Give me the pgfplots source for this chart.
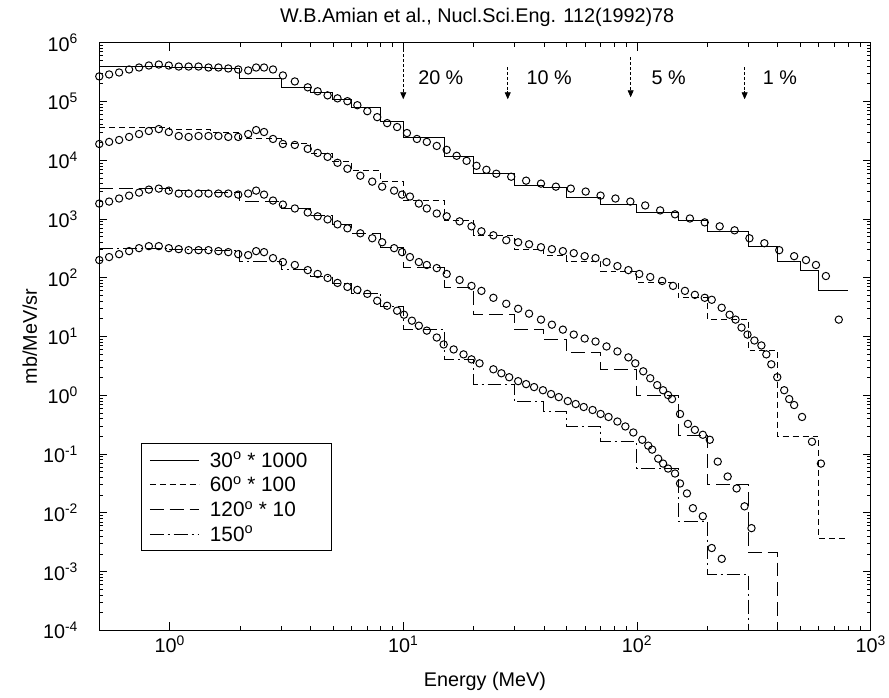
\documentclass[border=0pt]{standalone}
\usepackage{fontspec}
\setmainfont{Liberation Sans}
\usepackage{pgfplots}
\pgfplotsset{compat=1.18}
\usetikzlibrary{arrows.meta}

\begin{document}
\begin{tikzpicture}[
  meas/.style={only marks, mark=o, mark size=3.7bp, black, mark options={line width=1bp, solid}},
  calc/.style={const plot, black, line width=1bp},
]
\begin{axis}[
  scale only axis, width=777bp, height=592bp,
  xmode=log, ymode=log,
  xmin=0.5, xmax=1000, ymin=1e-4, ymax=1e6,
  xtick={1,10,100,1000},
  xticklabels={10\textsuperscript{0},10\textsuperscript{1},10\textsuperscript{2},10\textsuperscript{3}},
  ytick={1e-4,1e-3,1e-2,1e-1,1,10,100,1e3,1e4,1e5,1e6},
  yticklabels={10\textsuperscript{-4},10\textsuperscript{-3},10\textsuperscript{-2},10\textsuperscript{-1},
    10\textsuperscript{0},10\textsuperscript{1},10\textsuperscript{2},10\textsuperscript{3},
    10\textsuperscript{4},10\textsuperscript{5},10\textsuperscript{6}},
  axis line style={line width=1.4bp},
  major tick length=8bp, minor tick length=4bp,
  tick style={line width=0.8bp, black},
  ticklabel style={font=\fontsize{20}{22}\selectfont},
  yticklabel style={xshift=-18bp},
  xticklabel style={yshift=-2bp},
  xlabel={Energy (MeV)}, ylabel={mb/MeV/sr},
  label style={font=\fontsize{20}{22}\selectfont},
  xlabel style={at={(axis description cs:0.5,-0.087)}, anchor=center},
  ylabel style={at={(axis description cs:-0.090,0.5)}, anchor=center},
  title={W.B.Amian et al., Nucl.Sci.Eng. 112(1992)78},
  title style={font=\fontsize{20}{22}\selectfont, at={(axis description cs:0.49,1)}, anchor=center, yshift=20bp},
  legend style={at={(rel axis cs:0.054,0.318)}, anchor=north west, draw=black, line width=1bp,
    font=\fontsize{21}{23}\selectfont, inner xsep=8bp, inner ysep=6bp, row sep=4bp},
  legend cell align=left,
  legend image code/.code={\draw[#1] (0bp,0bp) -- (50bp,0bp);},
  /tikz/every odd column/.append style={column sep=8bp},
]
\coordinate (O) at (rel axis cs:0,0);
\coordinate (T) at (rel axis cs:1,1);

% calculations (histograms)
\addplot[calc] coordinates {
(0.5,3.9e5)(1,3.8e5)(1.5,3.6e5)(2,2.5e5)(3,1.74e5)(4,1.43e5)(5,1.09e5)(6,7.9e4)(8,4.6e4)
(10,2.4e4)(15,1.18e4)(20,5.9e3)(30,3.7e3)(40,3.5e3)(50,2.3e3)(70,1.77e3)(100,1.29e3)
(150,946)(200,617)(300,344)(400,192)(500,135)(600,60)(800,60)};
\addlegendentry{30\textsuperscript{o} * 1000\kern14bp}

\addplot[calc, dash pattern=on 6bp off 4bp] coordinates {
(0.5,3.66e4)(1,3.3e4)(1.5,3.0e4)(2,2.3e4)(3,1.9e4)(4,1.3e4)(5,9.5e3)(6,6.6e3)(8,4.3e3)
(10,2.06e3)(15,946)(20,530)(30,306)(40,243)(50,192)(70,130)(100,82)(150,46)(200,19.4)
(300,5.8)(400,0.2)(600,0.0036)(800,0.0036)};
\addlegendentry{60\textsuperscript{o} * 100}

\addplot[calc, dash pattern=on 14bp off 6bp] coordinates {
(0.5,3.29e3)(1,3.0e3)(1.5,2.8e3)(2,2.0e3)(3,1.5e3)(4,1.15e3)(5,800)(6,560)(8,330)
(10,148)(15,67)(20,23.5)(30,13.1)(40,8.9)(50,5.4)(70,2.8)(100,1.0)(150,0.21)(200,0.030)
(300,0.0021)(400,1e-6)(500,1e-6)};
\addlegendentry{120\textsuperscript{o} * 10}

\addplot[calc, dash pattern=on 14bp off 4bp on 2bp off 4bp] coordinates {
(0.5,318)(1,300)(1.5,290)(2,192)(3,140)(4,105)(5,80)(6,55)(8,32)
(10,13)(15,4.0)(20,1.55)(30,0.77)(40,0.52)(50,0.29)(70,0.162)(100,0.057)(150,0.0072)
(200,9.1e-4)(300,1e-6)(400,1e-6)};
\addlegendentry{150\textsuperscript{o}}

% measurements
\addplot[meas, forget plot] coordinates {
(0.500,2.67e5)(0.551,2.88e5)(0.608,3.11e5)(0.671,3.50e5)(0.740,3.78e5)(0.815,4.09e5)
(0.899,4.25e5)(0.992,4.09e5)(1.094,3.93e5)(1.206,3.93e5)(1.330,3.93e5)(1.467,3.78e5)
(1.618,3.78e5)(1.783,3.64e5)(1.967,3.50e5)(2.169,3.37e5)(2.346,3.78e5)(2.536,3.78e5)
(2.770,3.50e5)(3.054,2.77e5)(3.435,2.19e5)(3.901,1.74e5)(4.301,1.49e5)(4.744,1.27e5)
(5.230,1.13e5)(5.768,1.01e5)(6.361,8.63e4)(7.015,6.83e4)(7.734,5.41e4)(8.530,4.28e4)
(9.410,3.67e4)(10.37,2.90e4)(11.44,2.30e4)(12.61,2.05e4)(13.91,1.75e4)(15.34,1.50e4)
(16.92,1.19e4)(18.66,9.77e3)(20.58,8.04e3)(22.69,6.88e3)(25.01,5.89e3)(28.97,5.24e3)
(33.56,4.49e3)(38.85,4.00e3)(44.99,3.55e3)(52.10,3.29e3)(60.35,2.93e3)(69.88,2.50e3)
(80.91,2.23e3)(93.70,1.98e3)(108.5,1.70e3)(125.7,1.40e3)(145.5,1.20e3)(168.5,1.02e3)
(195.1,876)(226.0,750)(261.7,642)(303.0,470)(351.0,387)(406.4,295)(470.7,233)
(529.1,200)(583.7,165)(643.7,107)(730.9,19.4)};
\addplot[meas, forget plot] coordinates {
(0.500,1.89e4)(0.551,2.05e4)(0.608,2.21e4)(0.671,2.49e4)(0.740,2.79e4)(0.815,3.14e4)
(0.899,3.39e4)(0.992,3.02e4)(1.094,2.58e4)(1.206,2.49e4)(1.330,2.58e4)(1.467,2.58e4)
(1.618,2.58e4)(1.783,2.49e4)(1.967,2.49e4)(2.169,2.79e4)(2.346,3.26e4)(2.536,3.02e4)
(2.770,2.30e4)(3.054,1.89e4)(3.435,1.82e4)(3.901,1.56e4)(4.301,1.33e4)(4.744,1.14e4)
(5.230,9.04e3)(5.768,7.16e3)(6.550,5.45e3)(7.366,4.32e3)(8.121,3.55e3)(9.135,3.04e3)
(9.88,2.60e3)(10.68,2.41e3)(11.66,1.83e3)(12.61,1.51e3)(13.91,1.24e3)(15.34,1.11e3)
(17.42,911)(19.59,750)(21.6,617)(24.3,528)(27.59,435)(31.02,402)(34.54,372)(38.85,331)
(43.26,307)(48.2,284)(53.65,262)(59.75,233)(66.5,216)(74.10,185)(82.51,158)(91.9,135)
(102.3,116)(114.0,103)(128.2,88.3)(142.7,72.7)(160.5,59.8)(177.0,51.2)(195.1,45.6)
(209.0,42.2)(230.5,30.9)(249.2,23.5)(264.2,19.4)(280.3,14.2)(297.2,10.8)(318.2,8.56)
(340.9,7.05)(357.9,4.97)(375.8,3.37)(398.6,2.03)(426.9,1.22)(448.3,0.863)(470.7,0.683)
(508.8,0.428)(561.3,0.162)(612.9,0.0689)};
\addplot[meas, forget plot] coordinates {
(0.500,1.83e3)(0.551,1.98e3)(0.608,2.23e3)(0.671,2.50e3)(0.740,2.81e3)(0.815,3.16e3)
(0.899,3.29e3)(0.992,3.04e3)(1.094,2.71e3)(1.206,2.71e3)(1.330,2.71e3)(1.467,2.71e3)
(1.618,2.71e3)(1.783,2.71e3)(1.967,2.60e3)(2.169,2.71e3)(2.346,3.04e3)(2.536,2.60e3)
(2.770,2.06e3)(3.054,1.76e3)(3.435,1.51e3)(3.901,1.29e3)(4.301,1.11e3)(4.744,984)
(5.230,811)(5.768,694)(6.550,571)(7.366,470)(8.121,402)(9.135,319)(9.88,273)(10.68,225)
(11.66,185)(12.61,165)(13.91,146)(15.34,116)(17.42,91.8)(19.59,72.7)(21.6,59.8)
(24.3,45.6)(27.59,36.1)(31.02,29.7)(34.54,24.5)(38.85,19.4)(43.26,15.9)(48.2,13.1)
(53.65,10.8)(59.75,9.25)(66.5,8.23)(74.10,6.78)(82.51,5.58)(91.9,4.42)(98.4,3.50)
(106.4,2.56)(114.0,1.95)(122.1,1.49)(129.4,1.22)(135.9,1.01)(141.3,0.863)(152.9,0.481)
(165.3,0.326)(177.0,0.258)(191.4,0.213)(205.0,0.175)(221.7,0.0744)(244.5,0.0415)
(267.0,0.0260)(288.7,0.0129)(309.2,0.00549)};
\addplot[meas, forget plot] coordinates {
(0.500,200)(0.551,225)(0.608,252)(0.671,284)(0.740,319)(0.815,345)(0.899,345)(0.992,319)
(1.094,307)(1.206,295)(1.330,295)(1.467,295)(1.618,284)(1.783,273)(1.967,252)(2.169,243)
(2.346,284)(2.536,273)(2.770,216)(3.054,185)(3.435,165)(3.901,135)(4.301,116)(4.744,99.2)
(5.230,81.7)(5.768,69.9)(6.361,62.2)(7.015,53.2)(7.734,40.6)(8.530,33.4)(9.410,27.5)
(10.07,23.5)(10.89,18.6)(11.66,15.3)(12.61,12.6)(13.91,9.62)(14.89,7.33)(16.43,6.03)
(18.11,4.97)(19.59,4.09)(21.2,3.50)(24.3,2.77)(26.3,2.37)(28.4,2.03)(31.02,1.74)
(33.56,1.55)(36.3,1.38)(39.6,1.22)(42.9,1.05)(46.3,0.932)(50.6,0.798)(54.7,0.710)
(59.2,0.632)(64.6,0.562)(69.9,0.481)(75.6,0.428)(82.5,0.358)(89.2,0.295)(96.5,0.233)
(105.4,0.175)(111.8,0.139)(116.2,0.119)(123.3,0.0836)(129.4,0.0689)(135.9,0.0567)
(145.5,0.0467)(152.9,0.0316)(163.7,0.0214)(173.6,0.0120)(191.4,0.00876)(209.0,0.00252)
(230.6,0.00165)};

% statistical-uncertainty markers
\begin{scope}[line width=0.7bp]
\draw[dash pattern=on 3bp off 2bp] (axis cs:10,9.3e5) -- (axis cs:10,1.4e5);
\draw[dash pattern=on 3bp off 2bp] (axis cs:28,3.8e5) -- (axis cs:28,1.4e5);
\draw[dash pattern=on 3bp off 2bp] (axis cs:94,5.6e5) -- (axis cs:94,1.5e5);
\draw[dash pattern=on 3bp off 2bp] (axis cs:289,3.8e5) -- (axis cs:289,1.4e5);
\draw[-{Triangle[length=7bp,width=6bp]}] (axis cs:10,1.5e5) -- (axis cs:10,1.09e5);
\draw[-{Triangle[length=7bp,width=6bp]}] (axis cs:28,1.5e5) -- (axis cs:28,1.09e5);
\draw[-{Triangle[length=7bp,width=6bp]}] (axis cs:94,1.6e5) -- (axis cs:94,1.18e5);
\draw[-{Triangle[length=7bp,width=6bp]}] (axis cs:289,1.5e5) -- (axis cs:289,1.09e5);
\end{scope}
\node[anchor=west, font=\fontsize{20}{22}\selectfont] at (axis cs:11.2,2.56e5) {20 \%};
\node[anchor=west, font=\fontsize{20}{22}\selectfont] at (axis cs:32.6,2.56e5) {10 \%};
\node[anchor=west, font=\fontsize{20}{22}\selectfont] at (axis cs:111.7,2.56e5) {5 \%};
\node[anchor=west, font=\fontsize{20}{22}\selectfont] at (axis cs:334,2.56e5) {1 \%};
\end{axis}
\path ([shift={(-100bp,-68bp)}]O) rectangle ([shift={(12bp,43bp)}]T);
\end{tikzpicture}
\end{document}
